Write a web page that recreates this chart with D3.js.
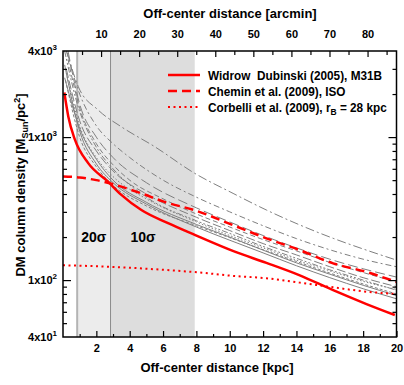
<!DOCTYPE html>
<html>
<head>
<meta charset="utf-8">
<script src="https://cdn.jsdelivr.net/npm/d3@7"></script>
<style>
  body { margin: 0; background: #fff; }
  svg text {
    font-family: "Liberation Sans Narrow", "Arial Narrow", "Liberation Sans", Arial, sans-serif;
    font-weight: bold;
    fill: #000;
  }
</style>
</head>
<body>
<svg id="chart"></svg>
<script>
// ---- data ----
const kpcMajorTicks = [2, 4, 6, 8, 10, 12, 14, 16, 18, 20];
const kpcMinorTicks = [1, 3, 5, 7, 9, 11, 13, 15, 17, 19];
const arcminMajorTicks = [10, 20, 30, 40, 50, 60, 70, 80];
const arcminMinorTicks = [5, 15, 25, 35, 45, 55, 65, 75, 85];
const densityMajorTicks = [1000, 100];
const densityMinorTicks = [3000, 2000, 900, 800, 700, 600, 500, 400, 300, 200, 90, 80, 70, 60, 50];
const densityLabelValues = [4000, 1000, 100, 40];
const densityLabelMantissa = ['4x10', '1x10', '1x10', '4x10'];
const densityLabelExponent = ['3', '3', '2', '1'];

const kpcPerArcmin = 0.2283;       // M31 at ~785 kpc
const sigma20Band = [0.85, 2.85];  // kpc
const sigma10Band = [2.85, 7.9];   // kpc

// red curves [kpc, M_sun/pc^2]
const widrowDubinski = [[0.08, 2050], [0.32, 1390], [0.72, 955], [1.5, 660], [2.7, 488], [3.5, 394], [4.7, 309],
  [6.3, 250], [7.9, 207], [10.3, 158], [12.2, 132], [14.2, 108], [16.2, 85], [18.2, 68], [19.9, 57]];
const cheminIso = [[0, 530], [1, 522], [1.5, 512], [2, 500], [2.8, 475], [4.7, 404], [6, 355], [8, 305],
  [10.2, 242], [12.2, 196], [14.2, 162], [16.2, 131], [18.2, 114], [20, 97]];
const corbelli = [[0, 127], [2, 125], [4, 122], [6, 118], [8.2, 113], [10.2, 107], [12.2, 103], [14.2, 96],
  [16.2, 89], [18.2, 83], [20, 80]];

// gray comparison models
const grayModelA = [[0.25, 3900], [0.92, 2250], [2.1, 1550], [3.5, 1180], [5.5, 857], [7.9, 558], [10.2, 404],
  [12.2, 309], [14.2, 243], [16.2, 196], [18.2, 162], [20, 138]];
const grayModelB = [[0.2, 4000], [1, 2000], [2, 1200], [3, 900], [4, 720], [6, 500], [8, 380], [10, 300],
  [12, 240], [14, 195], [16, 163], [18, 140], [20, 124]];
const grayModelC = [[0.3, 3500], [1, 1600], [2, 900], [3, 640], [4, 500], [6, 370], [8, 290], [10, 235],
  [12, 192], [14, 160], [16, 133], [18, 113], [20, 97]];
const grayModelD = [[0.2, 3000], [1, 1300], [2, 800], [3, 580], [5, 400], [8, 275], [10, 222], [12, 180],
  [14, 150], [16, 124], [18, 104], [20, 90]];
const grayModelE = [[0.2, 2800], [1, 1200], [2, 720], [3, 530], [5, 370], [8, 255], [10, 205], [12, 168],
  [14, 138], [16, 116], [18, 98], [20, 86]];
const grayModelF = [[0.1, 3200], [1, 1100], [2, 650], [3, 480], [5, 340], [8, 235], [10, 190], [12, 155],
  [14, 126], [16, 104], [18, 87], [20, 74]];
const grayModelG = [[0.1, 4000], [0.8, 1800], [2, 850], [3, 600], [5, 380], [8, 260], [10, 212], [12, 172],
  [14, 142], [16, 118], [18, 100], [20, 85]];
const grayModelH = [[0.15, 2500], [1, 1000], [2, 620], [3, 460], [5, 330], [8, 240], [10, 198], [12, 163],
  [14, 135], [16, 112], [18, 94], [20, 80]];
const grayModelI = [[0.1, 2600], [1, 1150], [2, 700], [3, 500], [5, 350], [8, 245], [10, 200], [12, 162],
  [14, 132], [16, 110], [18, 92], [20, 78]];
const grayModelJ = [[0.3, 4000], [1, 1700], [2, 1000], [3, 720], [5, 480], [8, 320], [10, 255], [12, 205],
  [14, 168], [16, 140], [18, 120], [20, 105]];

const legendLabels = ['Widrow\u00a0\u00a0Dubinski (2005), M31B', 'Chemin et al. (2009), ISO', 'Corbelli et al. (2009), r'];

class DensityChart {

  constructor(_config) {
    this.config = {
      parentElement: _config.parentElement,
      containerWidth: 404,
      containerHeight: 385,
      margin: { top: 51, right: 7.5, bottom: 48, left: 63 },
      legendLongestWidth: 179
    };
    this.initVis();
  }

  initVis() {
    let vis = this;
    const m = vis.config.margin;
    vis.width = vis.config.containerWidth - m.left - m.right;
    vis.height = vis.config.containerHeight - m.top - m.bottom;

    vis.xScale = d3.scaleLinear().domain([0, 20]).range([0, vis.width]);
    vis.xScaleArcmin = d3.scaleLinear().domain([0, 20 / kpcPerArcmin]).range([0, vis.width]);
    vis.yScale = d3.scaleLog().domain([40, 4000]).range([vis.height, 0]);

    vis.svg = d3.select(vis.config.parentElement)
      .attr('width', vis.config.containerWidth)
      .attr('height', vis.config.containerHeight);

    vis.chart = vis.svg.append('g')
      .attr('transform', `translate(${m.left},${m.top})`);

    vis.svg.append('defs').append('clipPath').attr('id', 'plot-clip')
      .append('rect').attr('width', vis.width).attr('height', vis.height);

    vis.renderVis();
  }

  renderVis() {
    let vis = this;

    // sigma bands
    vis.chart.append('rect')
      .attr('x', vis.xScale(sigma20Band[0]))
      .attr('width', vis.xScale(sigma20Band[1]) - vis.xScale(sigma20Band[0]))
      .attr('height', vis.height)
      .attr('fill', '#ececec');
    vis.chart.append('rect')
      .attr('x', vis.xScale(sigma10Band[0]))
      .attr('width', vis.xScale(sigma10Band[1]) - vis.xScale(sigma10Band[0]))
      .attr('height', vis.height)
      .attr('fill', '#dddddd');
    vis.chart.append('line')
      .attr('x1', vis.xScale(sigma20Band[0])).attr('x2', vis.xScale(sigma20Band[0]))
      .attr('y1', 0).attr('y2', vis.height)
      .attr('stroke', '#b4b4b4').attr('stroke-width', 2);
    vis.chart.append('line')
      .attr('x1', vis.xScale(sigma20Band[1])).attr('x2', vis.xScale(sigma20Band[1]))
      .attr('y1', 0).attr('y2', vis.height)
      .attr('stroke', '#8c8c8c').attr('stroke-width', 1);

    vis.chart.append('text')
      .attr('x', vis.xScale((sigma20Band[0] + sigma20Band[1]) / 2))
      .attr('y', vis.yScale(185))
      .attr('text-anchor', 'middle')
      .attr('font-size', '14px')
      .text('20σ');
    vis.chart.append('text')
      .attr('x', vis.xScale(4.8))
      .attr('y', vis.yScale(185))
      .attr('text-anchor', 'middle')
      .attr('font-size', '14px')
      .text('10σ');

    // curves
    const line = d3.line()
      .x(d => vis.xScale(d[0]))
      .y(d => vis.yScale(d[1]))
      .curve(d3.curveMonotoneX);

    const curves = vis.chart.append('g').attr('clip-path', 'url(#plot-clip)');

    const grayModels = [grayModelA, grayModelB, grayModelC, grayModelD, grayModelE,
      grayModelF, grayModelG, grayModelH, grayModelI, grayModelJ];
    const grayDashes = ['9,3,2,3', '6,3,2,3', '5,3', '9,3', '1.5,2', null, '6,2,2,2,2,2', '3,2', null, '10,4'];

    curves.selectAll('.gray-model')
      .data(grayModels)
      .join('path')
      .attr('class', 'gray-model')
      .attr('fill', 'none')
      .attr('stroke', '#7f7f7f')
      .attr('stroke-width', 1)
      .attr('stroke-dasharray', (d, i) => grayDashes[i])
      .attr('d', line);

    const redModels = [widrowDubinski, cheminIso, corbelli];
    const redDashes = [null, '9,5', '2,3.5'];
    const redWidths = [2.5, 2.5, 2];

    curves.selectAll('.red-model')
      .data(redModels)
      .join('path')
      .attr('class', 'red-model')
      .attr('fill', 'none')
      .attr('stroke', '#ff0000')
      .attr('stroke-width', (d, i) => redWidths[i])
      .attr('stroke-dasharray', (d, i) => redDashes[i])
      .attr('d', line);

    // axes (ticks point inwards)
    const strip = g => g.select('.domain').remove();

    vis.chart.append('g')
      .attr('transform', `translate(0,${vis.height})`)
      .call(d3.axisBottom(vis.xScale).tickValues(kpcMajorTicks).tickSize(-6).tickPadding(7).tickFormat(d3.format('d')))
      .call(strip)
      .call(g => g.selectAll('text').attr('font-size', '11px').attr('font-family', null));
    vis.chart.append('g')
      .attr('transform', `translate(0,${vis.height})`)
      .call(d3.axisBottom(vis.xScale).tickValues(kpcMinorTicks).tickSize(-3).tickFormat(''))
      .call(strip);

    vis.chart.append('g')
      .call(d3.axisTop(vis.xScaleArcmin).tickValues(arcminMajorTicks).tickSize(-6).tickPadding(13).tickFormat(d3.format('d')))
      .call(strip)
      .call(g => g.selectAll('text').attr('font-size', '11px').attr('font-family', null));
    vis.chart.append('g')
      .call(d3.axisTop(vis.xScaleArcmin).tickValues(arcminMinorTicks).tickSize(-4).tickFormat(''))
      .call(strip);

    vis.chart.append('g')
      .call(d3.axisLeft(vis.yScale).tickValues(densityMajorTicks).tickSize(-8).tickFormat(''))
      .call(strip);
    vis.chart.append('g')
      .call(d3.axisLeft(vis.yScale).tickValues(densityMinorTicks).tickSize(-4).tickFormat(''))
      .call(strip);
    vis.chart.append('g')
      .attr('transform', `translate(${vis.width},0)`)
      .call(d3.axisRight(vis.yScale).tickValues(densityMajorTicks).tickSize(-8).tickFormat(''))
      .call(strip);
    vis.chart.append('g')
      .attr('transform', `translate(${vis.width},0)`)
      .call(d3.axisRight(vis.yScale).tickValues(densityMinorTicks).tickSize(-4).tickFormat(''))
      .call(strip);

    vis.chart.selectAll('.tick line').attr('stroke', '#000').attr('stroke-width', 1.2);

    // y tick labels with exponents
    const yLabels = vis.chart.selectAll('.y-label')
      .data(densityLabelValues)
      .join('text')
      .attr('class', 'y-label')
      .attr('x', -6)
      .attr('y', d => vis.yScale(d) + 4)
      .attr('text-anchor', 'end')
      .attr('font-size', '11px');
    yLabels.append('tspan').text((d, i) => densityLabelMantissa[i]);
    yLabels.append('tspan').attr('dy', -5).attr('font-size', '8px').text((d, i) => densityLabelExponent[i]);

    // frame
    vis.chart.append('rect')
      .attr('width', vis.width)
      .attr('height', vis.height)
      .attr('fill', 'none')
      .attr('stroke', '#000')
      .attr('stroke-width', 1.5);

    // axis titles
    vis.svg.append('text')
      .attr('x', 230)
      .attr('y', 18)
      .attr('text-anchor', 'middle')
      .attr('font-size', '13px')
      .text('Off-center distance [arcmin]');
    vis.svg.append('text')
      .attr('x', 217)
      .attr('y', 372)
      .attr('text-anchor', 'middle')
      .attr('font-size', '13px')
      .text('Off-center distance [kpc]');

    const yTitle = vis.svg.append('text')
      .attr('transform', 'translate(25,185) rotate(-90)')
      .attr('text-anchor', 'middle')
      .attr('font-size', '13px');
    yTitle.append('tspan').text('DM column density [M');
    yTitle.append('tspan').attr('dy', 3).attr('font-size', '9px').text('Sun');
    yTitle.append('tspan').attr('dy', -3).text('/pc');
    yTitle.append('tspan').attr('dy', -5).attr('font-size', '9px').text('2');
    yTitle.append('tspan').attr('dy', 5).text(']');

    // legend
    const legend = vis.svg.append('g').attr('transform', 'translate(168,75)');
    const rows = legend.selectAll('.legend-row')
      .data(legendLabels)
      .join('g')
      .attr('class', 'legend-row')
      .attr('transform', (d, i) => `translate(0,${i * 16})`);
    rows.append('line')
      .attr('x1', 0).attr('x2', 32)
      .attr('stroke', '#ff0000')
      .attr('stroke-width', (d, i) => redWidths[i])
      .attr('stroke-dasharray', (d, i) => redDashes[i]);
    const labels = rows.append('text')
      .attr('x', 40)
      .attr('y', 5)
      .attr('font-size', '12.5px');
    labels.append('tspan').text(d => d);
    labels.filter((d, i) => i === 2).append('tspan').attr('dy', 3).attr('font-size', '9px').text('B');
    labels.filter((d, i) => i === 2).append('tspan').attr('dy', -3).text('\u00a0= 28 kpc');

    // one common squeeze so the longest row fits inside the frame as in the figure
    const widest = d3.max(labels.nodes(), n => n.getBBox().width);
    const k = Math.min(1, vis.config.legendLongestWidth / widest);
    labels.attr('transform', `translate(40,0) scale(${k},1) translate(-40,0)`);
  }
}

new DensityChart({ parentElement: '#chart' });
</script>
</body>
</html>
